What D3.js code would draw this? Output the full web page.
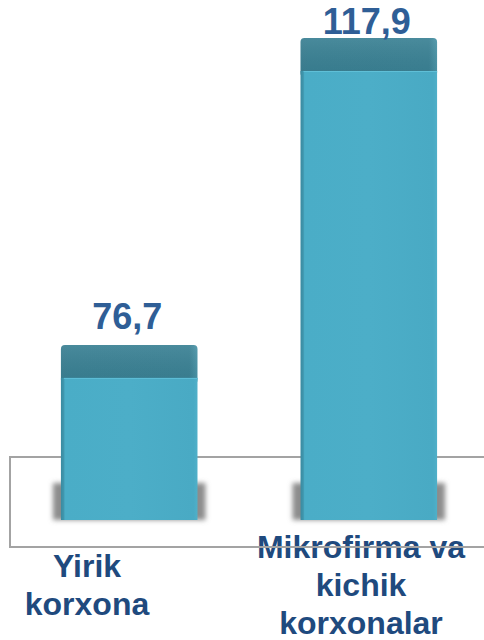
<!DOCTYPE html>
<html>
<head>
<meta charset="utf-8">
<script src="https://cdn.jsdelivr.net/npm/d3@7"></script>
<style>
  html, body { margin: 0; padding: 0; background: #fff; }
  svg { display: block; }
  text { font-family: "Liberation Sans", Arial, sans-serif; font-weight: bold; }
</style>
</head>
<body>
<svg id="chart" width="484" height="640"></svg>
<script>
const categories = ['Yirik korxona', 'Mikrofirma va kichik korxonalar'];
const labelLines = [['Yirik', 'korxona'], ['Mikrofirma va', 'kichik', 'korxonalar']];
const values = [76.7, 117.9];
const valueLabels = ['76,7', '117,9'];

const width = 484;
const floorTop = 457;
const floorBottom = 547;
const barBottom = 520;
const topFace = 33;

const svg = d3.select('#chart');
const defs = svg.append('defs');

const frontGrad = defs.append('linearGradient').attr('id', 'front').attr('x1', 0).attr('x2', 1);
frontGrad.append('stop').attr('offset', '0%').attr('stop-color', '#3a8aa0');
frontGrad.append('stop').attr('offset', '2%').attr('stop-color', '#3f96ad');
frontGrad.append('stop').attr('offset', '3%').attr('stop-color', '#4aadc7');
frontGrad.append('stop').attr('offset', '50%').attr('stop-color', '#4caec8');
frontGrad.append('stop').attr('offset', '97%').attr('stop-color', '#49aac4');
frontGrad.append('stop').attr('offset', '100%').attr('stop-color', '#4fb0c9');

const topGrad = defs.append('linearGradient').attr('id', 'topFace').attr('x1', 0).attr('x2', 1);
topGrad.append('stop').attr('offset', '0%').attr('stop-color', '#3b7f92');
topGrad.append('stop').attr('offset', '6%').attr('stop-color', '#398093');
topGrad.append('stop').attr('offset', '94%').attr('stop-color', '#3a8194');
topGrad.append('stop').attr('offset', '100%').attr('stop-color', '#4a95a8');

const topShade = defs.append('linearGradient').attr('id', 'topShade').attr('x1', 0).attr('x2', 0).attr('y1', 0).attr('y2', 1);
topShade.append('stop').attr('offset', '0%').attr('stop-color', '#fff').attr('stop-opacity', 0.08);
topShade.append('stop').attr('offset', '100%').attr('stop-color', '#000').attr('stop-opacity', 0.04);

defs.append('filter').attr('id', 'blur').attr('x', '-20%').attr('y', '-20%').attr('width', '140%').attr('height', '140%')
  .append('feGaussianBlur').attr('stdDeviation', 2.5);

const x = d3.scaleBand().domain(categories).range([13, 485]).paddingInner(0.43).paddingOuter(0.2);
const y = d3.scaleLinear().domain([53.2, 117.9]).range([barBottom, 38]);
const labelX = d3.scalePoint().domain(categories).range([87, 361]);

const data = categories.map((c, i) => ({ category: c, value: values[i], label: valueLabels[i], lines: labelLines[i] }));

// category labels (floor line is drawn over them)
const cat = svg.append('g').selectAll('text')
  .data(data)
  .join('text')
  .attr('text-anchor', 'middle')
  .attr('font-size', 32)
  .attr('fill', '#1f4a7e');

cat.selectAll('tspan')
  .data((d) => d.lines.map((line, j) => ({ line, j, n: d.lines.length, x: labelX(d.category) })))
  .join('tspan')
  .attr('x', (d) => d.x)
  .attr('y', (d) => 596 + (d.j - (d.n - 1) / 2) * 38)
  .text((d) => d.line);

// floor box
svg.append('path')
  .attr('d', `M${width + 2},${floorTop}H10V${floorBottom}H${width + 2}`)
  .attr('fill', 'none')
  .attr('stroke', '#a3a3a3')
  .attr('stroke-width', 2);

// shadows at bar base
svg.append('g').selectAll('rect')
  .data(data)
  .join('rect')
  .attr('x', (d) => x(d.category) - 8)
  .attr('y', 483)
  .attr('width', x.bandwidth() + 16)
  .attr('height', barBottom - 483)
  .attr('fill', '#8c8c8c')
  .attr('filter', 'url(#blur)');

const bars = svg.append('g').selectAll('g')
  .data(data)
  .join('g');

bars.append('rect')
  .attr('x', (d) => x(d.category))
  .attr('y', (d) => y(d.value))
  .attr('width', x.bandwidth())
  .attr('height', topFace + 6)
  .attr('rx', 4)
  .attr('fill', 'url(#topFace)');

bars.append('rect')
  .attr('x', (d) => x(d.category))
  .attr('y', (d) => y(d.value))
  .attr('width', x.bandwidth())
  .attr('height', topFace + 6)
  .attr('rx', 4)
  .attr('fill', 'url(#topShade)');

bars.append('rect')
  .attr('x', (d) => x(d.category))
  .attr('y', (d) => y(d.value) + topFace)
  .attr('width', x.bandwidth())
  .attr('height', (d) => barBottom - y(d.value) - topFace)
  .attr('fill', 'url(#front)');

bars.append('line')
  .attr('x1', (d) => x(d.category) + 3)
  .attr('x2', (d) => x(d.category) + x.bandwidth())
  .attr('y1', (d) => y(d.value) + topFace + 0.5)
  .attr('y2', (d) => y(d.value) + topFace + 0.5)
  .attr('stroke', '#5fbfd7')
  .attr('stroke-width', 1);

// value labels
svg.append('g').selectAll('text')
  .data(data)
  .join('text')
  .attr('x', (d) => x(d.category) + x.bandwidth() / 2 - 2)
  .attr('y', (d) => Math.max(y(d.value) - 16, 34))
  .attr('text-anchor', 'middle')
  .attr('font-size', 36)
  .attr('fill', '#2f5e96')
  .text((d) => d.label);
</script>
</body>
</html>
